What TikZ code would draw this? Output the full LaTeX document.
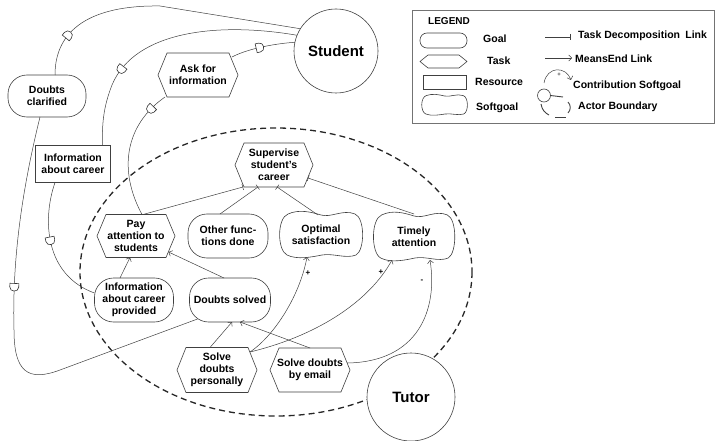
\documentclass[tikz,border=0pt]{standalone}
\usepackage{fontspec}
\setmainfont{Liberation Sans}
\usetikzlibrary{arrows.meta,calc,decorations.markings}
\pgfdeclarelayer{back}
\pgfdeclarelayer{shp}
\pgfsetlayers{back,shp,main}
\newcommand\dmark{\draw[draw=black!80,fill=white,line width=0.6pt] (-3.5,-4.5) -- (0,-4.5) .. controls (5.5,-4.5) and (5.5,4.5) .. (0,4.5) -- (-3.5,4.5) -- cycle;}
\newcommand\hexa[2][9]{\begin{pgfonlayer}{shp}\draw[shapeline,fill=white] (#2.west) -- ($(#2.north west)+(#1,0)$) -- ($(#2.north east)+(-#1,0)$) -- (#2.east) -- ($(#2.south east)+(-#1,0)$) -- ($(#2.south west)+(#1,0)$) -- cycle;\end{pgfonlayer}}
\newcommand\sgoal[3]{\begin{pgfonlayer}{shp}\begin{scope}[shift={(#1.center)},xscale=#2,yscale=#3]
\draw[shapeline,fill=white] (-33,-21) .. controls (-22,-26) and (-10,-23) .. (0,-20) .. controls (10,-17) and (22,-26) .. (34,-21)
 .. controls (44,-17) and (44,15) .. (35,20) .. controls (25,24) and (12,18) .. (1,20) .. controls (-9,22) and (-24,25) .. (-34,20)
 .. controls (-44,15) and (-44,-17) .. (-33,-21) -- cycle;
\end{scope}\end{pgfonlayer}}
\tikzset{
 shapeline/.style={draw=black!75, line width=0.6pt},
 txt/.style={font=\fontsize{10.5}{12}\selectfont\bfseries, align=center, inner sep=1pt, outer sep=0pt},
 goal/.style={txt, shapeline, fill=white, rectangle, rounded corners=19pt, minimum width=80pt, minimum height=44pt},
 task/.style={txt, minimum width=80pt, minimum height=44pt},
 soft/.style={txt, minimum width=82pt, minimum height=44pt},
 res/.style={txt, shapeline, fill=white, minimum width=75pt, minimum height=37pt},
 actor/.style={circle, shapeline, fill=white, inner sep=0pt, outer sep=0pt, minimum size=88pt, font=\fontsize{15}{18}\selectfont\bfseries},
 link/.style={draw=black!75, line width=0.5pt},
 decomp/.style={link, -{Bar[width=6pt]}},
 means/.style={link, -{Straight Barb[length=3pt,width=6pt]}},
 dep/.style={link, postaction={decorate, decoration={markings, mark=at position #1 with {\dmark}}}},
 lg/.style={font=\fontsize{10.5}{12}\selectfont\bfseries, inner sep=0pt, anchor=west},
 lbl/.style={font=\fontsize{8}{9}\selectfont\bfseries, inner sep=0pt},
}
\begin{document}
\begin{tikzpicture}[x=1pt,y=-1pt]
\useasboundingbox (0,0) rectangle (715,441);
\begin{pgfonlayer}{back}
\draw[draw=black!85, line width=1.3pt, dash pattern=on 6pt off 4pt] (276,272) ellipse [x radius=196, y radius=144];
\end{pgfonlayer}

% nodes
\node[goal, minimum width=78pt, minimum height=42pt] (dcl) at (47,96) {Doubts\\clarified};
\node[task] (ask) at (198,75) {Ask for\\information}; \hexa{ask}
\node[res] (inf) at (73,164) {Information\\about career};
\node[task, minimum width=78pt] (sup) at (274,165) {Supervise\\student's\\career}; \hexa{sup}
\node[task, minimum width=78pt, minimum height=43pt] (pay) at (136,236) {Pay\\attention to\\students}; \hexa{pay}
\node[goal] (oth) at (228,236) {Other func-\\tions done};
\node[soft] (opt) at (321,235) {Optimal\\satisfaction}; \sgoal{opt}{1}{1}
\node[soft, minimum width=80pt, minimum height=46pt] (tim) at (414,237) {Timely\\attention}; \sgoal{tim}{0.98}{1.05}
\node[goal, minimum width=79pt] (icp) at (134,300) {Information\\about career\\provided};
\node[goal, minimum width=81pt] (dso) at (230,300) {Doubts solved};
\node[task, minimum height=45pt] (sdp) at (217,370) {Solve\\doubts\\personally}; \hexa{sdp}
\node[task] (sde) at (310,370) {Solve doubts\\by email}; \hexa{sde}
\node[actor, minimum size=84pt] (stu) at (336,51) {Student};
\node[actor] (tut) at (411,397) {Tutor};

% dependencies
\draw[dep=0.15] ($(dcl.north)+(8,0)$) .. controls (55,30) and (90,5) .. (160,6) -- (stu.148);
\draw[dep=0.7] (stu.158) .. controls (220,22) and (135,30) .. (112,85) .. controls (103,108) and (102,125) .. ($(inf.north east)+(-8,0)$);
\draw[dep=0.45] ($(ask.north east)+(-6,4)$) .. controls (245,50) and (270,44) .. (stu.168);
\draw[dep=0.14] ($(ask.south west)+(7,0)$) .. controls (125,125) and (118,170) .. ($(pay.north)+(6,0)$);
\draw[dep=0.45] ($(inf.south)+(-18,0)$) .. controls (42,220) and (45,275) .. (icp.170);
\draw[dep=0.39] ($(dcl.south)+(-7,0)$) .. controls (22,190) and (12,260) .. (14,330) .. controls (14,372) and (28,382) .. (60,370) -- ($(dso.south west)+(8,-3)$);

% decompositions
\draw[decomp] ($(pay.north)+(7,0)$) -- ($(sup.south west)+(8,0)$);
\draw[decomp] ($(oth.north)+(-8,0)$) -- ($(sup.south)+(-16,0)$);
\draw[decomp] ($(opt.north)+(-3,2)$) -- ($(sup.south)+(3,0)$);
\draw[decomp] (tim.north) -- ($(sup.east)+(-5,13)$);

% means-end
\draw[means] ($(icp.north)+(-14,0)$) -- ($(pay.south)+(-6,0)$);
\draw[means] ($(dso.north)+(-6,0)$) -- ($(pay.east)+(-6.5,16)$);
\draw[means] ($(sdp.north)+(-7,0)$) -- ($(dso.south)+(2,0)$);
\draw[means] (sde.north) -- ($(dso.south)+(10,0)$);

% contributions
\draw[means] ($(sdp.east)+(-7,-18)$) .. controls (275,335) and (300,295) .. ($(opt.south)+(-14,0)$);
\draw[means] ($(sdp.east)+(-7,-18)$) .. controls (320,335) and (370,300) .. ($(tim.south)+(-22,0)$);
\draw[means] ($(sde.east)+(-3,-7)$) .. controls (418,362) and (438,310) .. ($(tim.south)+(16,0)$);
\node[lbl] (p1) at (308,273) {+};
\node[lbl] (p2) at (381,272) {+};
\node[lbl] (m1) at (422,281) {-};

% legend
\node[draw=black!55, line width=0.9pt, minimum width=302pt, minimum height=113pt, inner sep=0pt, outer sep=0pt, anchor=north west] (leg) at (412,10) {};
\node[lg, font=\fontsize{10}{12}\selectfont\bfseries] (lgt) at (428,21) {LEGEND};
\node[goal, minimum width=47pt, minimum height=15pt, rounded corners=7pt] (lgoal) at (443.5,40.5) {};
\node[task, minimum width=47pt, minimum height=13pt] (ltask) at (443.5,61.5) {}; \hexa[8]{ltask}
\node[res, minimum width=43pt, minimum height=14pt] (lres) at (444.5,82) {};
\node[soft, minimum width=45pt, minimum height=20pt] (lsoft) at (444.5,105) {}; \sgoal{lsoft}{0.55}{0.45}
\node[lg] (tg) at (483,39) {Goal};
\node[lg] (tt) at (487,61) {Task};
\node[lg] (tr) at (475,82) {Resource};
\node[lg] (ts) at (476,108) {Softgoal};
\node[lg] (tdl) at (578,36) {Task Decomposition\hspace{0.5em}Link};
\node[lg] (tme) at (575,59) {MeansEnd Link};
\node[lg] (tcs) at (573,86) {Contribution Softgoal};
\node[lg] (tab) at (578,107) {Actor Boundary};
\coordinate (d1) at (545,37); \coordinate (d2) at (570,37);
\draw[decomp] (d1) -- (d2);
\coordinate (e1) at (545,58); \coordinate (e2) at (572,58);
\draw[means] (e1) -- (e2);
\coordinate (c1) at (544,83); \coordinate (c2) at (571,80);
\draw[means] (c1) .. controls (547,66) and (566,66) .. (c2);
\node[lbl, font=\fontsize{6}{7}\selectfont] (cp) at (559,75) {+};
\node[circle, shapeline, minimum size=13pt, inner sep=0pt, outer sep=0pt] (lac) at (544,95.5) {};
\coordinate (ab1) at (563,97);
\draw[link, line width=0.9pt] (lac.east) -- (ab1);
\coordinate (ab2) at (541,104); \coordinate (ab3) at (549,115);
\draw[link, line width=0.9pt] (ab2) .. controls (542,110) and (545,113) .. (ab3);
\coordinate (ab4) at (555,117); \coordinate (ab5) at (566,117);
\draw[link, line width=0.9pt] (ab4) -- (ab5);
\coordinate (ab6) at (568,102); \coordinate (ab7) at (568,113);
\draw[link, line width=0.9pt] (ab6) .. controls (571,105) and (571,110) .. (ab7);
\end{tikzpicture}
\end{document}
